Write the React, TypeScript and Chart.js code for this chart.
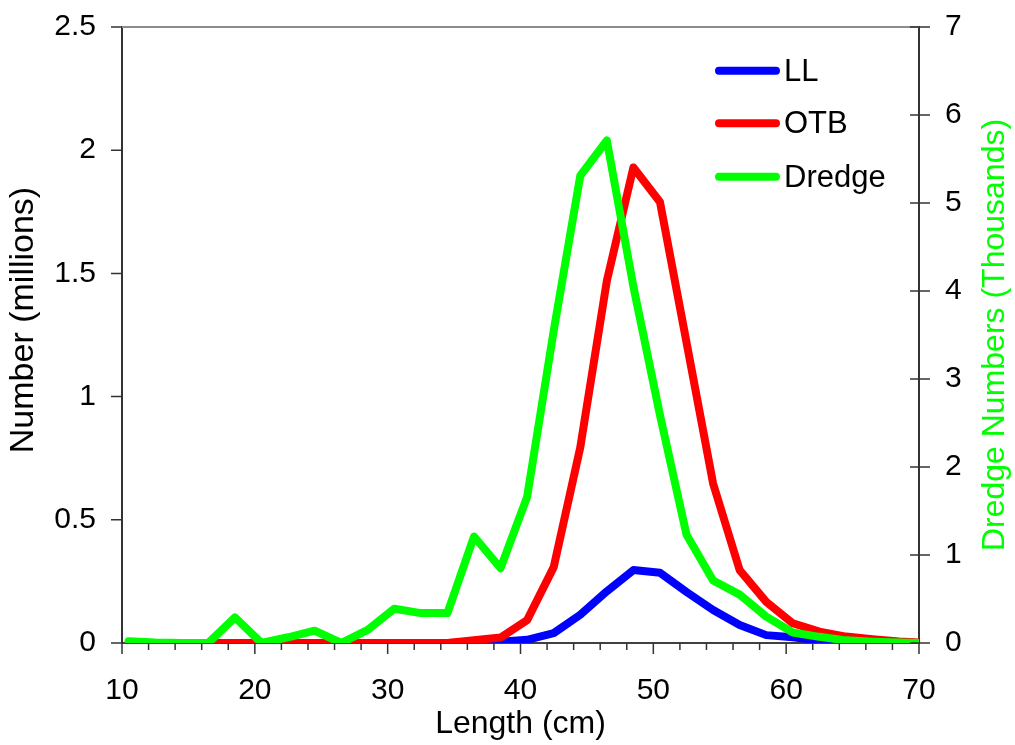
import React, { useEffect, useRef } from 'react';
import { Chart, registerables } from 'chart.js';

Chart.register(...registerables);

const FONT = '"Liberation Sans", Arial, sans-serif';

const lengths = [10.5, 12.5, 14.5, 16.5, 18.5, 20.5, 22.5, 24.5, 26.5, 28.5, 30.5, 32.5, 34.5, 36.5, 38.5, 40.5, 42.5, 44.5, 46.5, 48.5, 50.5, 52.5, 54.5, 56.5, 58.5, 60.5, 62.5, 64.5, 66.5, 68.5, 70.5];
const llValues = [0, 0, 0, 0, 0, 0, 0, 0, 0, 0, 0, 0, 0, 0.002, 0.005, 0.013, 0.04, 0.115, 0.21, 0.296, 0.285, 0.207, 0.134, 0.073, 0.032, 0.023, 0.01, 0.003, 0.001, 0, 0];
const otbValues = [0, 0, 0, 0, 0, 0, 0, 0, 0, 0, 0, 0, 0, 0.011, 0.022, 0.093, 0.308, 0.794, 1.47, 1.93, 1.79, 1.22, 0.647, 0.296, 0.167, 0.08, 0.046, 0.026, 0.015, 0.006, 0];
const dredgeValues = [0.02, 0.005, 0, 0, 0.29, 0, 0.065, 0.14, 0, 0.15, 0.39, 0.34, 0.34, 1.21, 0.85, 1.66, 3.55, 5.31, 5.71, 4.05, 2.59, 1.23, 0.71, 0.55, 0.3, 0.12, 0.07, 0.03, 0.015, 0.005, 0];

const seriesLabels = ['LL', 'OTB', 'Dredge'];
const seriesColors = ['#0000FF', '#FF0000', '#00FF00'];

const xTicks = [10, 20, 30, 40, 50, 60, 70];
const xMinorTicks = [12, 14, 16, 18, 22, 24, 26, 28, 32, 34, 36, 38, 42, 44, 46, 48, 52, 54, 56, 58, 62, 64, 66, 68];
const leftTicks = [0, 0.5, 1, 1.5, 2, 2.5];
const rightTicks = [0, 1, 2, 3, 4, 5, 6, 7];

const xTitle = 'Length (cm)';
const leftTitle = 'Number (millions)';
const rightTitle = 'Dredge Numbers (Thousands)';

const toPoints = (vals: number[]) => vals.map((v, i) => ({ x: lengths[i], y: v }));

const decorPlugin = {
  id: 'decor',
  afterDraw(chart: any) {
    const { ctx, chartArea } = chart;
    const xs = chart.scales.x;
    const yl = chart.scales.y;
    const yr = chart.scales.y2;
    ctx.save();
    // top border
    ctx.strokeStyle = '#8c8c8c';
    ctx.lineWidth = 2;
    ctx.beginPath();
    ctx.moveTo(chartArea.left, chartArea.top);
    ctx.lineTo(chartArea.right, chartArea.top);
    ctx.stroke();

    ctx.strokeStyle = '#333333';
    ctx.lineWidth = 1.5;
    ctx.beginPath();
    xTicks.forEach((v) => {
      const px = xs.getPixelForValue(v);
      ctx.moveTo(px, chartArea.bottom);
      ctx.lineTo(px, chartArea.bottom + 11);
    });
    xMinorTicks.forEach((v) => {
      const px = xs.getPixelForValue(v);
      ctx.moveTo(px, chartArea.bottom);
      ctx.lineTo(px, chartArea.bottom + 7);
    });
    leftTicks.forEach((v) => {
      const py = yl.getPixelForValue(v);
      ctx.moveTo(chartArea.left - 11, py);
      ctx.lineTo(chartArea.left, py);
    });
    rightTicks.forEach((v) => {
      const py = yr.getPixelForValue(v);
      ctx.moveTo(chartArea.right - 9, py);
      ctx.lineTo(chartArea.right + 11, py);
    });
    ctx.stroke();

    // left title (reads bottom to top)
    ctx.save();
    ctx.translate(23.4, 320);
    ctx.rotate(-Math.PI / 2);
    ctx.fillStyle = '#000';
    ctx.font = `34px ${FONT}`;
    ctx.textAlign = 'center';
    ctx.textBaseline = 'middle';
    ctx.fillText(leftTitle, 0, 0);
    ctx.restore();

    // right title (reads bottom to top)
    ctx.save();
    ctx.translate(995.5, (chartArea.top + chartArea.bottom) / 2);
    ctx.rotate(-Math.PI / 2);
    ctx.fillStyle = '#00FF00';
    ctx.font = `32px ${FONT}`;
    ctx.textAlign = 'center';
    ctx.textBaseline = 'middle';
    ctx.fillText(rightTitle, 0, 0);
    ctx.restore();

    // legend
    const rowsY = [70.7, 123.3, 176.7];
    chart.data.datasets.forEach((ds: any, i: number) => {
      const y = rowsY[i];
      ctx.strokeStyle = ds.borderColor;
      ctx.lineWidth = 8;
      ctx.lineCap = 'round';
      ctx.beginPath();
      ctx.moveTo(719, y);
      ctx.lineTo(776, y);
      ctx.stroke();
      ctx.fillStyle = '#000';
      ctx.font = `31px ${FONT}`;
      ctx.textAlign = 'left';
      ctx.textBaseline = 'middle';
      ctx.fillText(ds.label, 784, y + 1.5);
    });
    ctx.restore();
  },
};

export default function App() {
  const ref = useRef<HTMLCanvasElement | null>(null);
  useEffect(() => {
    document.body.style.margin = '0';
    const canvas = ref.current;
    if (!canvas) return;
    const values = [llValues, otbValues, dredgeValues];
    const axisIds = ['y', 'y', 'y2'];
    const orders = [2, 1, 0];
    const chart = new Chart(canvas, {
      type: 'line',
      data: {
        datasets: seriesLabels.map((label, i) => ({
          label,
          data: toPoints(values[i]),
          borderColor: seriesColors[i],
          backgroundColor: seriesColors[i],
          borderWidth: 8,
          pointRadius: 0,
          pointHoverRadius: 0,
          tension: 0,
          fill: false,
          borderJoinStyle: 'round',
          borderCapStyle: 'round',
          yAxisID: axisIds[i],
          order: orders[i],
        })),
      },
      options: {
        responsive: false,
        animation: false,
        events: [],
        layout: { padding: { top: 27, left: 0, right: 0, bottom: 0 } },
        plugins: { legend: { display: false }, tooltip: { enabled: false } },
        scales: {
          x: {
            type: 'linear',
            position: 'bottom',
            min: 10,
            max: 70,
            afterBuildTicks: (s: any) => { s.ticks = xTicks.map((v) => ({ value: v })); },
            afterFit: (s: any) => { s.height = 102; s.paddingLeft = 0; s.paddingRight = 0; },
            ticks: { font: { family: FONT, size: 30 }, color: '#000', padding: 30, maxRotation: 0, autoSkip: false },
            grid: { display: false, drawTicks: false },
            border: { display: true, color: '#404040', width: 2 },
            title: { display: true, text: xTitle, color: '#000', font: { family: FONT, size: 32 }, padding: { top: 0, bottom: 2 } },
          },
          y: {
            type: 'linear',
            position: 'left',
            min: 0,
            max: 2.5,
            afterBuildTicks: (s: any) => { s.ticks = leftTicks.map((v) => ({ value: v })); },
            afterFit: (s: any) => { s.width = 122; s.paddingTop = 0; s.paddingBottom = 0; },
            ticks: { font: { family: FONT, size: 30 }, color: '#000', padding: 26, callback: (v: any) => String(v) },
            grid: { display: false, drawTicks: false },
            border: { display: true, color: '#333333', width: 2 },
          },
          y2: {
            type: 'linear',
            position: 'right',
            min: 0,
            max: 7,
            afterBuildTicks: (s: any) => { s.ticks = rightTicks.map((v) => ({ value: v })); },
            afterFit: (s: any) => { s.width = 96; s.paddingTop = 0; s.paddingBottom = 0; },
            ticks: { font: { family: FONT, size: 30 }, color: '#000', padding: 26, callback: (v: any) => String(v) },
            grid: { display: false, drawTicks: false },
            border: { display: true, color: '#333333', width: 2 },
          },
        },
      } as any,
      plugins: [decorPlugin],
    });
    return () => chart.destroy();
  }, []);
  return (
    <div style={{ position: 'absolute', left: 0, top: 0, width: 1015, height: 745, background: '#fff' }}>
      <canvas ref={ref} width={1015} height={745} style={{ width: 1015, height: 745, display: 'block' }} />
    </div>
  );
}
